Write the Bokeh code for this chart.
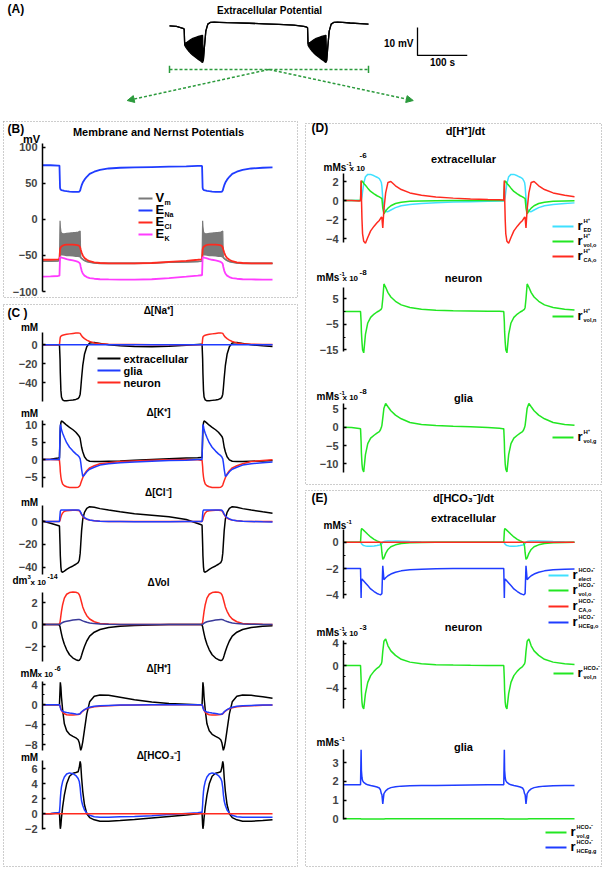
from bokeh.plotting import figure
from bokeh.models import Range1d, FixedTicker, Label, Arrow, NormalHead, LinearAxis
from bokeh.embed import file_html
from bokeh.resources import INLINE

# ---------------- data (time in s) ----------------
T = [0, 14, 27,
     29.5, 30.5, 31, 32, 33, 35, 38, 42, 47, 53, 58, 62, 64, 65.5, 66.5, 68, 70, 73, 77, 82, 90, 100,
     115, 135, 160, 190, 220, 250, 270, 276,
     277.5, 278.5, 279, 280, 281, 283, 286, 290, 295, 301, 306, 310, 312, 313.5, 314.5, 316, 318, 321, 325, 330, 338, 348,
     363, 383, 400]

# (A) extracellular potential, mV relative (envelope of the oscillation)
a_hi = [-0.1, -0.3, -1.0,
        -1.3, -6.5, -6.4, -6.3, -6.2, -6.0, -5.6, -5.1, -4.6, -4.2, -3.9, -3.7, -3.6, -3.5, -3.5, -12.5, -8, -2, 0.5, 1.1, 1.2, 1.15,
        1.05, 0.95, 0.8, 0.6, 0.4, 0.1, -0.3, -0.6,
        -0.8, -6.5, -6.4, -6.3, -6.2, -6.0, -5.6, -5.1, -4.6, -4.2, -3.9, -3.7, -3.6, -3.5, -3.5, -12.5, -8, -2, 0.5, 1.1, 1.2, 1.15,
        0.9, 0.7, 0.5]
a_lo = [-0.1, -0.3, -1.0,
        -1.3, -7, -7.2, -7.5, -7.8, -8.3, -9, -9.8, -10.6, -11.4, -12.1, -12.6, -12.9, -13.1, -13.2, -12.5, -8, -2, 0.5, 1.1, 1.2, 1.15,
        1.05, 0.95, 0.8, 0.6, 0.4, 0.1, -0.3, -0.6,
        -0.8, -7, -7.2, -7.5, -7.8, -8.3, -9, -9.8, -10.6, -11.4, -12.1, -12.6, -12.9, -13.1, -13.2, -12.5, -8, -2, 0.5, 1.1, 1.2, 1.15,
        0.9, 0.7, 0.5]

# (B) membrane and Nernst potentials, mV
vm_lo = [-58, -58, -57.5,
         -57, -48, -48, -49, -49, -49, -49.5, -50, -50, -50.5, -51, -51, -51.5, -52, -53, -54, -55.5, -57, -58.5, -59.5, -60.5, -61,
         -61, -61, -61, -60.5, -59.5, -59, -58.5, -58,
         -57.5, -48, -48, -49, -49, -49, -49.5, -50, -50, -50.5, -51, -51, -51.5, -52, -53, -54, -55.5, -57, -58.5, -59.5, -60.5, -61,
         -61, -61, -61]
vm_hi = [-58, -58, -57.5,
         -57, -2, -10, -17, -19, -20, -20, -19.5, -19, -18.5, -18, -17.5, -17, -16, -53, -54, -55.5, -57, -58.5, -59.5, -60.5, -61,
         -61, -61, -61, -60.5, -59.5, -59, -58.5, -58,
         -57.5, -2, -10, -17, -19, -20, -20, -19.5, -19, -18.5, -18, -17.5, -17, -16, -53, -54, -55.5, -57, -58.5, -59.5, -60.5, -61,
         -61, -61, -61]
e_na = [75, 75, 74.5,
        74.5, 44, 42, 41, 40.5, 40, 39.5, 39, 38.5, 38, 38, 38, 38.5, 40, 43, 47, 51, 55, 59, 63, 66, 68.5,
        70.5, 71.5, 72, 72.5, 73, 73.5, 74, 74,
        74, 44, 42, 41, 40.5, 40, 39.5, 39, 38.5, 38, 38, 38, 38.5, 40, 43, 47, 51, 55, 59, 63, 66, 68.5,
        70.5, 71.5, 72]
e_cl = [-56, -56, -55.5,
        -55, -42, -40, -38.5, -37.5, -36.5, -35.5, -35, -35, -35, -35.5, -36, -37, -39, -42, -46, -50, -53.5, -56, -58, -59.5, -60.5,
        -61, -61, -61, -60.5, -59, -57.5, -56, -55.5,
        -55, -42, -40, -38.5, -37.5, -36.5, -35.5, -35, -35, -35, -35.5, -36, -37, -39, -42, -46, -50, -53.5, -56, -58, -59.5, -60.5,
        -61, -61, -61]
e_k = [-79.5, -79, -78.5,
       -78, -53, -52.5, -52.5, -53, -53.5, -54, -55, -56, -57, -58, -59, -60, -62, -66, -71, -75, -78, -80, -81.5, -82.3, -83,
       -83.3, -83.5, -83.5, -83, -81.5, -79.5, -78, -77.5,
       -77.3, -53, -52.5, -52.5, -53, -53.5, -54, -55, -56, -57, -58, -59, -60, -62, -66, -71, -75, -78, -80, -81.5, -82.3, -83,
       -83.3, -83.5, -83.5]

# (C) concentration / volume changes
na_ext = [0, 0, 0,
          0, -15, -30, -48, -55, -58, -59, -59, -58.5, -58, -57.5, -56.5, -55, -52, -46, -35, -22, -10, -2, 2, 2.5, 1.5,
          0, -1, -1.8, -2, -1.5, -0.5, 0.3, 0.5,
          0.5, -15, -30, -48, -55, -58, -59, -59, -58.5, -58, -57.5, -56.5, -55, -52, -46, -35, -22, -10, -2, 2, 2.5, 1.5,
          0, -1, -1.8]
na_gli = [0, 0, 0,
          0, 0, 0, 0, 0, 0, 0, 0, 0, 0, 0, 0, 0, 0, 0, 0, 0, 0, 0, 0, 0, 0,
          0, 0, 0, 0, 0, 0, 0, 0,
          0, 0, 0, 0, 0, 0, 0, 0, 0, 0, 0, 0, 0, 0, 0, 0, 0, 0, 0, 0, 0, 0,
          0, 0, 0]
na_neu = [0, 0, 0,
          0, 6, 8, 9, 9.5, 10, 10.5, 11, 11.5, 12, 12.3, 12.5, 12.3, 12, 11, 9.5, 8, 6.5, 5, 3.5, 2, 1.2,
          0.6, 0.3, 0.2, 0.1, 0, 0, 0, 0,
          0, 6, 8, 9, 9.5, 10, 10.5, 11, 11.5, 12, 12.3, 12.5, 12.3, 12, 11, 9.5, 8, 6.5, 5, 3.5, 2, 1.2,
          0.6, 0.4, 0.3]
k_ext = [0, 0.1, 0.4,
         0.5, 6, 9, 10.5, 11, 10.8, 10.4, 9.8, 9.2, 8.5, 7.8, 7, 6.6, 6, 5, 3.5, 2.2, 0.8, -0.1, -0.5, -0.6, -0.6,
         -0.5, -0.4, -0.2, 0, 0.2, 0.4, 0.5, 0.6,
         0.6, 6, 9, 10.5, 11, 10.8, 10.4, 9.8, 9.2, 8.5, 7.8, 7, 6.6, 6, 5, 3.5, 2.2, 0.8, -0.1, -0.5, -0.6, -0.6,
         -0.5, -0.4, -0.3]
k_gli = [0, 0, 0,
         0, 8, 10, 9.5, 8.5, 7.5, 6.3, 4.8, 3.5, 2.4, 1.6, 1.1, 0.7, 0.2, -0.8, -2.8, -4.8, -4.4, -3.5, -2.8, -2.2, -1.6,
         -1.2, -0.9, -0.7, -0.5, -0.3, -0.2, 0, 0,
         0, 8, 10, 9.5, 8.5, 7.5, 6.3, 4.8, 3.5, 2.4, 1.6, 1.1, 0.7, 0.2, -0.8, -2.8, -4.8, -4.4, -3.5, -2.8, -2.2, -1.6,
         -1.2, -0.9, -0.7]
k_neu = [0, 0, -0.1,
         -0.2, -2, -3.5, -5, -6, -7, -7.5, -7.8, -8, -8, -8, -7.9, -7.7, -7.3, -6.8, -6.1, -5.2, -4.1, -3.2, -2.4, -1.8, -1.2,
         -0.9, -0.6, -0.4, -0.2, -0.1, 0, -0.1, -0.2,
         -0.2, -2, -3.5, -5, -6, -7, -7.5, -7.8, -8, -8, -8, -7.9, -7.7, -7.3, -6.8, -6.1, -5.2, -4.1, -3.2, -2.4, -1.8, -1.2,
         -0.6, -0.3, -0.1]
cl_ext = [0.5, -1.5, -3.5,
          -4, -20, -30, -40, -44, -44.5, -43.5, -42, -40.5, -39, -37.5, -36, -34, -28, -20, -8, 2, 8, 11.5, 13, 12.5, 11.3,
          10, 8.5, 6.8, 5.5, 4.2, 1.8, -1.8, -2.8,
          -3.2, -20, -30, -40, -44, -44.5, -43.5, -42, -40.5, -39, -37.5, -36, -34, -28, -20, -8, 2, 8, 11.5, 13, 12.5, 11.3,
          10, 8.5, 7.3]
cl_gli = [0, 0, 0,
          0, 6, 9, 10, 10, 10, 10, 10, 10, 10, 10, 10, 9.8, 9, 8, 6.5, 5, 3.5, 2.2, 1.3, 0.6, 0.2,
          0, -0.1, -0.2, -0.2, -0.2, -0.1, 0, 0,
          0, 6, 9, 10, 10, 10, 10, 10, 10, 10, 10, 10, 9.8, 9, 8, 6.5, 5, 3.5, 2.2, 1.3, 0.6, 0.2,
          0, -0.3, -0.5]
cl_neu = [0, 0, 0,
          0, 1, 2, 4, 5.5, 7.5, 9, 9.5, 9.7, 9.8, 9.8, 9.7, 9.4, 8.5, 7.3, 6, 4.5, 3, 2, 1.2, 0.6, 0.2,
          0, 0, 0, 0, 0, 0, 0, 0,
          0, 1, 2, 4, 5.5, 7.5, 9, 9.5, 9.7, 9.8, 9.8, 9.7, 9.4, 8.5, 7.3, 6, 4.5, 3, 2, 1.2, 0.6, 0.2,
          0, 0, 0]
vol_ext = [0, 0, 0,
           -0.05, -0.2, -0.35, -0.6, -0.85, -1.3, -1.8, -2.3, -2.75, -3.05, -3.2, -3.27, -3.25, -3.15, -3.05, -2.8, -2.45, -2, -1.5, -1.05, -0.7, -0.45,
           -0.28, -0.17, -0.1, -0.05, 0, 0, 0, 0,
           -0.05, -0.2, -0.35, -0.6, -0.85, -1.3, -1.8, -2.3, -2.75, -3.05, -3.2, -3.27, -3.25, -3.15, -3.05, -2.8, -2.45, -2, -1.5, -1.05, -0.7, -0.45,
           -0.28, -0.17, -0.12]
vol_gli = [0, 0, 0,
           0, 0.02, 0.04, 0.08, 0.12, 0.18, 0.25, 0.3, 0.35, 0.4, 0.43, 0.45, 0.45, 0.44, 0.42, 0.38, 0.33, 0.27, 0.2, 0.14, 0.08, 0.04,
           0.02, 0, 0, 0, 0, 0, 0, 0,
           0, 0.02, 0.04, 0.08, 0.12, 0.18, 0.25, 0.3, 0.35, 0.4, 0.43, 0.45, 0.45, 0.44, 0.42, 0.38, 0.33, 0.27, 0.2, 0.14, 0.08, 0.04,
           0.02, 0, 0]
vol_neu = [0, 0, 0,
           0.05, 0.2, 0.4, 0.8, 1.2, 1.8, 2.4, 2.75, 2.9, 2.95, 2.93, 2.85, 2.7, 2.5, 2.3, 2, 1.6, 1.2, 0.8, 0.5, 0.25, 0.1,
           0.05, 0, 0, 0, 0, 0, 0, 0,
           0.05, 0.2, 0.4, 0.8, 1.2, 1.8, 2.4, 2.75, 2.9, 2.95, 2.93, 2.85, 2.7, 2.5, 2.3, 2, 1.6, 1.2, 0.8, 0.5, 0.25, 0.1,
           0.05, 0.02, 0]
h_ext = [0, 0, 0,
         0, 3, 4.5, 3.5, 1.5, -1, -3.8, -5.2, -5.9, -6.3, -6.6, -7, -7.6, -8.5, -9.1, -8.6, -7.4, -5, -1.8, 0.6, 1.7, 1.95,
         1.9, 1.5, 1.0, 0.55, 0.25, 0.1, 0, 0,
         0, 3, 4.5, 3.5, 1.5, -1, -3.8, -5.2, -5.9, -6.3, -6.6, -7, -7.6, -8.5, -9.1, -8.6, -7.4, -5, -1.8, 0.6, 1.7, 1.95,
         1.9, 1.6, 1.3]
h_neu = [0, 0, 0,
         0, -0.2, -0.4, -0.8, -1.1, -1.5, -1.8, -2, -2.05, -2.05, -2, -1.95, -1.9, -1.8, -1.7, -1.5, -1.3, -1, -0.8, -0.6, -0.4, -0.3,
         -0.2, -0.1, -0.05, 0, 0, 0, 0, 0,
         0, -0.2, -0.4, -0.8, -1.1, -1.5, -1.8, -2, -2.05, -2.05, -2, -1.95, -1.9, -1.8, -1.7, -1.5, -1.3, -1, -0.8, -0.6, -0.4, -0.3,
         -0.2, -0.1, -0.05]
h_gli = [0, 0, 0,
         0, -0.3, -0.6, -0.9, -1.1, -1.3, -1.45, -1.55, -1.65, -1.75, -1.85, -1.9, -1.85, -1.75, -1.6, -1.4, -1.2, -0.95, -0.7, -0.5, -0.3, -0.2,
         -0.12, -0.06, -0.03, 0, 0, 0, 0, 0,
         0, -0.3, -0.6, -0.9, -1.1, -1.3, -1.45, -1.55, -1.65, -1.75, -1.85, -1.9, -1.85, -1.75, -1.6, -1.4, -1.2, -0.95, -0.7, -0.5, -0.3, -0.2,
         -0.12, -0.06, -0.03]
hco_ext = [0, 0, 0.1,
           0.1, -1.5, -2, -1.5, -0.5, 0.9, 2.5, 4, 5, 5.4, 5.5, 5.6, 6.2, 7, 6.6, 4.8, 3, 1.2, 0, -0.5, -0.8, -1,
           -1, -0.9, -0.75, -0.55, -0.35, -0.15, 0, 0.1,
           0.1, -1.5, -2, -1.5, -0.5, 0.9, 2.5, 4, 5, 5.4, 5.5, 5.6, 6.2, 7, 6.6, 4.8, 3, 1.2, 0, -0.5, -0.8, -1,
           -1, -0.9, -0.8]
hco_gli = [0, 0.05, 0.15,
           0.2, 1.2, 2, 3, 3.6, 4.3, 4.9, 5.3, 5.45, 5.35, 5.1, 4.7, 4.3, 3.5, 2.6, 1.7, 1.1, 0.5, 0.1, -0.2, -0.4, -0.45,
           -0.45, -0.4, -0.35, -0.25, -0.1, 0.05, 0.15, 0.2,
           0.2, 1.2, 2, 3, 3.6, 4.3, 4.9, 5.3, 5.45, 5.35, 5.1, 4.7, 4.3, 3.5, 2.6, 1.7, 1.1, 0.5, 0.1, -0.2, -0.4, -0.45,
           -0.45, -0.45, -0.45]
hco_neu = [0, 0, 0,
           0, 0, 0, 0, 0, 0, 0, 0, 0, 0, 0, 0, 0, 0, 0, 0, 0, 0, 0, 0, 0, 0,
           0, 0, 0, 0, 0, 0, 0, 0,
           0, 0, 0, 0, 0, 0, 0, 0, 0, 0, 0, 0, 0, 0, 0, 0, 0, 0, 0, 0, 0, 0,
           0, 0, 0]

# (D) d[H+]/dt
dh_ed = [0, 0, 0,
         0, 0, 0.1, 0.4, 0.9, 1.8, 2.5, 2.75, 2.75, 2.6, 2.45, 2.3, 2.1, 1.9, 1.5, 0.2, -0.8, -1.15, -1.18, -1.0, -0.75, -0.55,
         -0.42, -0.32, -0.24, -0.17, -0.12, -0.08, -0.06, -0.05,
         -0.05, 0, 0.1, 0.4, 0.9, 1.8, 2.5, 2.75, 2.75, 2.6, 2.45, 2.3, 2.1, 1.9, 1.5, 0.2, -0.8, -1.15, -1.18, -1.0, -0.75, -0.55,
         -0.42, -0.32, -0.25]
dh_volo = [0, 0, 0,
           0, 1.5, 2, 2.05, 2, 1.8, 1.6, 1.3, 0.95, 0.7, 0.5, 0.38, 0.3, 0.25, 0.2, -0.8, -1.4, -1.1, -0.8, -0.55, -0.32, -0.18,
           -0.08, -0.04, -0.02, 0, 0, 0, 0, 0,
           0, 1.5, 2, 2.05, 2, 1.8, 1.6, 1.3, 0.95, 0.7, 0.5, 0.38, 0.3, 0.25, 0.2, -0.8, -1.4, -1.1, -0.8, -0.55, -0.32, -0.18,
           -0.08, -0.04, -0.02]
dh_cao = [0, 0, -0.05,
          0, 2.1, 0.5, -2, -3.5, -4.3, -4.5, -3.9, -3.2, -2.7, -2.35, -2.1, -1.9, -1.75, -1.8, -2.9, -0.9, 0.8, 1.9, 2.0, 1.55, 1.15,
          0.8, 0.55, 0.38, 0.25, 0.17, 0.1, 0.07, 0.05,
          0.05, 2.1, 0.5, -2, -3.5, -4.3, -4.5, -3.9, -3.2, -2.7, -2.35, -2.1, -1.9, -1.75, -1.8, -2.9, -0.9, 0.8, 1.9, 2.0, 1.55, 1.15,
          0.8, 0.55, 0.4]
dh_voln = [0, 0, 0,
           0, -4, -8, -12, -15, -16.2, -9, -4.5, -2.3, -1, -0.2, 0.3, 0.6, 1, 1.6, 5, 10.8, 9.5, 7.4, 5.7, 4, 2.6,
           1.6, 0.9, 0.5, 0.3, 0.2, 0.1, 0.05, 0,
           0, -4, -8, -12, -15, -16.2, -9, -4.5, -2.3, -1, -0.2, 0.3, 0.6, 1, 1.6, 5, 10.8, 9.5, 7.4, 5.7, 4, 2.6,
           1.6, 0.9, 0.6]
dh_volg = [0, -0.1, -0.35,
           -0.45, -4, -7, -10, -11.5, -12.2, -7.5, -4.5, -3, -2.2, -1.6, -1.2, -0.7, -0.1, 0.5, 2.5, 5.2, 6.5, 5.6, 4.5, 3.3, 2.3,
           1.3, 0.75, 0.45, 0.25, 0.1, -0.1, -0.3, -0.4,
           -0.45, -4, -7, -10, -11.5, -12.2, -7.5, -4.5, -3, -2.2, -1.6, -1.2, -0.7, -0.1, 0.5, 2.5, 5.2, 6.5, 5.6, 4.5, 3.3, 2.3,
           1.3, 0.75, 0.5]

# (E) d[HCO3-]/dt
dc_elect = [0, 0, 0,
            0, -0.05, -0.1, -0.15, -0.2, -0.25, -0.28, -0.3, -0.3, -0.28, -0.25, -0.22, -0.2, -0.15, -0.1, 0, 0.05, 0.08, 0.1, 0.1, 0.1, 0.08,
            0.05, 0.02, 0, 0, 0, 0, 0, 0,
            0, -0.05, -0.1, -0.15, -0.2, -0.25, -0.28, -0.3, -0.3, -0.28, -0.25, -0.22, -0.2, -0.15, -0.1, 0, 0.05, 0.08, 0.1, 0.1, 0.1, 0.08,
            0.05, 0.02, 0]
dc_volo = [0, 0, 0,
           0, 0.8, 1.0, 1.02, 0.98, 0.9, 0.78, 0.6, 0.4, 0.22, 0.1, 0.02, -0.05, -0.3, -0.8, -1.3, -1.2, -0.85, -0.55, -0.35, -0.2, -0.1,
           -0.05, -0.02, 0, 0, 0, 0, 0, 0,
           0, 0.8, 1.0, 1.02, 0.98, 0.9, 0.78, 0.6, 0.4, 0.22, 0.1, 0.02, -0.05, -0.3, -0.8, -1.3, -1.2, -0.85, -0.55, -0.35, -0.2, -0.1,
           -0.05, -0.02, 0]
dc_cao = [0, 0, 0,
          0, 0, 0, 0, 0, 0, 0, 0, 0, 0, 0, 0, 0, 0, 0, 0, 0, 0, 0, 0, 0, 0,
          0, 0, 0, 0, 0, 0, 0, 0,
          0, 0, 0, 0, 0, 0, 0, 0, 0, 0, 0, 0, 0, 0, 0, 0, 0, 0, 0, 0, 0, 0,
          0, 0, 0]
dc_hceo = [-2, -2, -2,
           -2, -4.25, -3.0, -2.8, -2.85, -2.95, -3.1, -3.3, -3.55, -3.75, -3.9, -3.97, -4.0, -3.95, -3.9, -1.8, -2.85, -2.7, -2.55, -2.42, -2.28, -2.18,
           -2.1, -2.05, -2.02, -2, -2, -2, -2, -2,
           -2, -4.25, -3.0, -2.8, -2.85, -2.95, -3.1, -3.3, -3.55, -3.75, -3.9, -3.97, -4.0, -3.95, -3.9, -1.8, -2.85, -2.7, -2.55, -2.42, -2.28, -2.18,
           -2.1, -2.05, -2.03]
dc_voln = [0, 0, 0,
           0, -2.5, -4.5, -6.5, -7.3, -7.7, -5, -3, -1.8, -1.0, -0.5, -0.2, 0.1, 0.3, 0.7, 2.5, 4.3, 4.7, 3.5, 2.6, 1.8, 1.1,
           0.6, 0.3, 0.15, 0.08, 0.04, 0.02, 0, 0,
           0, -2.5, -4.5, -6.5, -7.3, -7.7, -5, -3, -1.8, -1.0, -0.5, -0.2, 0.1, 0.3, 0.7, 2.5, 4.3, 4.7, 3.5, 2.6, 1.8, 1.1,
           0.6, 0.3, 0.18]
dc_volg = [0, 0, 0,
           0, -0.01, -0.01, -0.01, -0.01, -0.01, -0.01, -0.01, -0.01, -0.01, -0.01, -0.01, -0.01, -0.01, -0.01, -0.01, -0.01, 0, 0, 0, 0, 0,
           0, 0, 0, 0, 0, 0, 0, 0,
           0, -0.01, -0.01, -0.01, -0.01, -0.01, -0.01, -0.01, -0.01, -0.01, -0.01, -0.01, -0.01, -0.01, -0.01, -0.01, -0.01, 0, 0, 0, 0, 0,
           0, 0, 0]
dc_hceg = [1.82, 1.82, 1.82,
           1.82, 3.7, 2.6, 2.2, 2.05, 1.95, 1.88, 1.82, 1.78, 1.74, 1.7, 1.65, 1.55, 1.35, 1.3, 0.8, 1.35, 1.5, 1.6, 1.67, 1.72, 1.75,
           1.77, 1.78, 1.79, 1.8, 1.81, 1.82, 1.82, 1.82,
           1.82, 3.7, 2.6, 2.2, 2.05, 1.95, 1.88, 1.82, 1.78, 1.74, 1.7, 1.65, 1.55, 1.35, 1.3, 0.8, 1.35, 1.5, 1.6, 1.67, 1.72, 1.75,
           1.77, 1.78, 1.79]

SCALE_S = 100   # scale bar, s
SCALE_MV = 10   # scale bar, mV

_all = dict(a_hi=a_hi, a_lo=a_lo, vm_lo=vm_lo, vm_hi=vm_hi, e_na=e_na, e_cl=e_cl, e_k=e_k,
            na_ext=na_ext, na_gli=na_gli, na_neu=na_neu, k_ext=k_ext, k_gli=k_gli, k_neu=k_neu,
            cl_ext=cl_ext, cl_gli=cl_gli, cl_neu=cl_neu, vol_ext=vol_ext, vol_gli=vol_gli, vol_neu=vol_neu,
            h_ext=h_ext, h_neu=h_neu, h_gli=h_gli, hco_ext=hco_ext, hco_gli=hco_gli, hco_neu=hco_neu,
            dh_ed=dh_ed, dh_volo=dh_volo, dh_cao=dh_cao, dh_voln=dh_voln, dh_volg=dh_volg,
            dc_elect=dc_elect, dc_volo=dc_volo, dc_cao=dc_cao, dc_hceo=dc_hceo, dc_voln=dc_voln,
            dc_volg=dc_volg, dc_hceg=dc_hceg)
for _k, _v in _all.items():
    if len(_v) != len(T):
        raise ValueError(f"{_k} has {len(_v)} values, expected {len(T)}")

# ---------------- style ----------------
FONT = "Liberation Sans"
BLACK = "#000000"
BLUE = "#1f3cff"
RED = "#ff2a1f"
MAG = "#ff3cff"
GREY = "#7a7a7a"
CYAN = "#3fe0ff"
GREEN = "#22e622"
NAVY = "#3a3a9a"
DGREEN = "#2b9a3c"
BORDER = "#9a9a9a"

W, H = 603, 870

# One canvas; the default ranges are page pixels (y downwards), every
# sub-plot gets its own time range and value range.
p = figure(width=W, height=H, x_range=Range1d(0, W), y_range=Range1d(H, 0),
           x_axis_location=None, y_axis_location=None, title=None,
           min_border=0, min_border_left=0, min_border_right=0, min_border_top=0, min_border_bottom=0,
           toolbar_location=None, output_backend="svg", outline_line_color=None,
           background_fill_color="white", border_fill_color="white")
p.grid.visible = False

xr = {}
yr = {}


def trange(name, x0pix, px_per_s):
    xr[name] = Range1d(-x0pix / px_per_s, (W - x0pix) / px_per_s)


def vrange(name, y0pix, px_per_unit):
    yr[name] = Range1d((y0pix - H) / px_per_unit, y0pix / px_per_unit)


trange("ta", 169, 199 / 400)
trange("tl", 42, 230 / 400)
trange("tr", 343, 231 / 400)
vrange("va", 25, 2.8)
vrange("b", 218.85, 0.7215)
vrange("c1", 344.3, 0.95)
vrange("c2", 459, 3.5)
vrange("c3", 521, 1.14)
vrange("c4", 624, 11)
vrange("c5", 704.3, 5)
vrange("c6", 813.3, 7.5)
vrange("d1", 200, 9.5)
vrange("d2", 311, 2.55)
vrange("d3", 426.7, 3.66)
vrange("e1", 541.7, 13.15)
vrange("e2", 665, 5.625)
vrange("e3", 818.3, 18.67)
p.extra_x_ranges = xr
p.extra_y_ranges = yr


def yaxis(name, xpix, bounds, ticks, minor=()):
    ax = LinearAxis(y_range_name=name, fixed_location=xpix, bounds=bounds,
                    ticker=FixedTicker(ticks=list(ticks), minor_ticks=list(minor)))
    ax.axis_line_width = 1.5
    ax.axis_line_color = "black"
    ax.major_tick_in = 3
    ax.major_tick_out = 0
    ax.major_tick_line_width = 1.5
    ax.minor_tick_in = 2
    ax.minor_tick_out = 0
    ax.minor_tick_line_width = 1.2
    ax.major_label_text_font = FONT
    ax.major_label_text_font_style = "bold"
    ax.major_label_text_font_size = "11px"
    ax.major_label_standoff = 5
    p.add_layout(ax, "left")


def ln(xn, yn, y, color, w=1.5):
    p.line(T, y, x_range_name=xn, y_range_name=yn, line_color=color, line_width=w)


def lab(px, py, s, size=11, align="left"):
    p.add_layout(Label(x=px, y=py, text=s, text_font=FONT, text_font_size=f"{size}px",
                       text_font_style="bold", text_align=align, text_baseline="middle",
                       text_color="black"))


def seg(px0, px1, py, color, w=2.0):
    p.segment(x0=[px0], y0=[py], x1=[px1], y1=[py], line_color=color, line_width=w)


def rleg(x0, x1, yy, cc, sup, sub, supsize=6):
    seg(x0, x1, yy, cc, 2)
    lab(x1 + 4, yy - 1, "r", 13)
    lab(x1 + 10, yy - 5.5, sup, supsize)
    lab(x1 + 10, yy + 3.5, sub, 5.5)


# ---------------- panel frames (dotted) ----------------
p.quad(left=[3, 3, 305, 305], right=[297, 297, 601, 601], top=[121, 304, 123, 490],
       bottom=[297, 866, 484, 866], fill_color=None, line_color=BORDER, line_width=1, line_dash="1 2")

# ---------------- (A) ----------------
p.varea(x=T, y1=a_lo, y2=a_hi, x_range_name="ta", y_range_name="va", fill_color="black")
ln("ta", "va", a_hi, BLACK, 1.3)
ln("ta", "va", a_lo, BLACK, 1.3)
sb_t, sb_v = 498.5, -10.7
p.line([sb_t, sb_t, sb_t + SCALE_S], [sb_v + SCALE_MV, sb_v, sb_v], x_range_name="ta", y_range_name="va",
       line_color="black", line_width=1.3)
br_y = -15.7
p.line([T[0], T[-1]], [br_y, br_y], x_range_name="ta", y_range_name="va",
       line_color=DGREEN, line_width=1.5, line_dash="3 2")
p.segment(x0=[T[0], T[-1]], y0=[br_y - 1.3, br_y - 1.3], x1=[T[0], T[-1]], y1=[br_y + 1.3, br_y + 1.3],
          x_range_name="ta", y_range_name="va", line_color=DGREEN, line_width=1.5)
mid_t = (T[0] + T[-1]) / 2
for xe in (-85, 490):
    p.add_layout(Arrow(end=NormalHead(size=7, fill_color=DGREEN, line_color=DGREEN),
                       x_start=mid_t, y_start=br_y, x_end=xe, y_end=-26.8,
                       x_range_name="ta", y_range_name="va",
                       line_color=DGREEN, line_width=1.5, line_dash="3 2"))
lab(7, 8, "(A)", 12)
lab(269, 10, "Extracellular Potential", 10, "center")
lab(413, 43, "10 mV", 10, "right")
lab(442, 62, "100 s", 10, "center")

# ---------------- (B) ----------------
yaxis("b", 42, (-100, 105), [100, 50, 0, -50, -100])
p.varea(x=T, y1=vm_lo, y2=vm_hi, x_range_name="tl", y_range_name="b", fill_color=GREY)
ln("tl", "b", vm_hi, GREY, 1.2)
ln("tl", "b", vm_lo, GREY, 1.6)
ln("tl", "b", e_na, BLUE, 1.8)
ln("tl", "b", e_cl, RED, 1.8)
ln("tl", "b", e_k, MAG, 1.8)
lab(7, 128, "(B)", 12)
lab(158, 131, "Membrane and Nernst Potentials", 11, "center")
lab(31, 138, "mV", 11, "center")
for yy, cc, mn, sb in zip([198, 210, 222, 234], [GREY, BLUE, RED, MAG], ["V", "E", "E", "E"], ["m", "Na", "Cl", "K"]):
    seg(138, 152, yy, cc, 2)
    lab(155, yy - 1, mn, 13)
    lab(164, yy + 4, sb, 7)

# ---------------- (C) ----------------
yaxis("c1", 42, (-59.7, 12.95), [0, -20, -40])
yaxis("c2", 42, (-8.0, 11.14), [10, 5, 0, -5])
yaxis("c3", 42, (-46.5, 14.0), [0, -20, -40])
yaxis("c4", 42, (-3.36, 2.91), [2, 0, -2])
yaxis("c5", 42, (-9.14, 4.66), [4, 0, -4, -8], [2, -2, -6])
yaxis("c6", 42, (-2.09, 7.11), [6, 4, 2, 0, -2])

ln("tl", "c1", na_ext, BLACK); ln("tl", "c1", na_neu, RED); ln("tl", "c1", na_gli, BLUE)
ln("tl", "c2", k_ext, BLACK); ln("tl", "c2", k_neu, RED); ln("tl", "c2", k_gli, BLUE)
ln("tl", "c3", cl_ext, BLACK); ln("tl", "c3", cl_neu, RED); ln("tl", "c3", cl_gli, BLUE)
ln("tl", "c4", vol_ext, BLACK); ln("tl", "c4", vol_neu, RED); ln("tl", "c4", vol_gli, NAVY)
ln("tl", "c5", h_ext, BLACK); ln("tl", "c5", h_neu, RED); ln("tl", "c5", h_gli, BLUE)
ln("tl", "c6", hco_ext, BLACK); ln("tl", "c6", hco_gli, BLUE); ln("tl", "c6", hco_neu, RED)

lab(7, 312, "(C )", 12)
lab(158, 310, "Δ[Na⁺]", 10, "center")
lab(158, 412, "Δ[K⁺]", 10, "center")
lab(158, 492, "Δ[Cl⁻]", 10, "center")
lab(158, 582, "ΔVol", 10, "center")
lab(158, 668, "Δ[H⁺]", 10, "center")
lab(158, 755, "Δ[HCO₃⁻]", 10, "center")
lab(29, 327, "mM", 10, "center")
lab(29, 413, "mM", 10, "center")
lab(29, 502, "mM", 10, "center")
lab(29, 757, "mM", 10, "center")
lab(12, 580, "dm", 10)
lab(27, 576, "3", 6)
lab(30, 582, "x 10", 8)
lab(47, 576, "-14", 7)
lab(20, 673, "mM", 10)
lab(37, 674, "x 10", 8)
lab(54, 668, "-6", 7)
for yy, cc, tt in zip([358, 370, 382], [BLACK, BLUE, RED], ["extracellular", "glia", "neuron"]):
    seg(97, 120, yy, cc, 1.8)
    lab(123, yy, tt, 11)

# ---------------- (D) ----------------
yaxis("d1", 343, (-4.42, 2.84), [2, 0, -2, -4])
yaxis("d2", 343, (-15.5, 9.6), [5, -5, -15], [0, -10])
yaxis("d3", 343, (-12.38, 6.6), [5, 0, -5, -10])
ln("tr", "d1", dh_ed, CYAN); ln("tr", "d1", dh_volo, GREEN); ln("tr", "d1", dh_cao, RED)
ln("tr", "d2", dh_voln, GREEN)
ln("tr", "d3", dh_volg, GREEN)

lab(311, 127, "(D)", 12)
lab(465, 130, "d[H⁺]/dt", 11, "center")
lab(463, 158, "extracellular", 11, "center")
lab(323, 167, "mMs", 10)
lab(346, 163, "-1", 6)
lab(349, 168, "x 10", 8)
lab(359, 154.5, "-6", 8)
lab(463, 277, "neuron", 11, "center")
lab(316, 277, "mMs", 10)
lab(339, 273, "-1", 6)
lab(342, 278, "x 10", 8)
lab(359, 272, "-8", 8)
lab(463, 397, "glia", 11, "center")
lab(316, 396, "mMs", 10)
lab(339, 392, "-1", 6)
lab(342, 397, "x 10", 8)
lab(359, 391, "-8", 8)
for yy, cc, sb in zip([226, 241, 256], [CYAN, GREEN, RED], ["ED", "vol,o", "CA,o"]):
    rleg(552, 573, yy, cc, "H⁺", sb)
rleg(552, 573, 316, GREEN, "H⁺", "vol,n")
rleg(552, 573, 437, GREEN, "H⁺", "vol,g")

# ---------------- (E) ----------------
yaxis("e1", 343, (-4.3, 0.95), [0, -2, -4], [-1, -3])
yaxis("e2", 343, (-7.6, 4.4), [4, 0, -4], [2, -2, -6])
yaxis("e3", 343, (-0.05, 3.7), [3, 2, 1, 0])
ln("tr", "e1", dc_hceo, BLUE); ln("tr", "e1", dc_elect, CYAN); ln("tr", "e1", dc_volo, GREEN); ln("tr", "e1", dc_cao, RED)
ln("tr", "e2", dc_voln, GREEN)
ln("tr", "e3", dc_volg, GREEN); ln("tr", "e3", dc_hceg, BLUE)

lab(311, 497, "(E)", 12)
lab(463, 497, "d[HCO₃⁻]/dt", 11, "center")
lab(463, 517, "extracellular", 11, "center")
lab(323, 525, "mMs", 10)
lab(346, 521, "-1", 6)
lab(463, 626, "neuron", 11, "center")
lab(316, 632, "mMs", 10)
lab(339, 628, "-1", 6)
lab(342, 633, "x 10", 8)
lab(359, 627, "-3", 8)
lab(463, 746, "glia", 11, "center")
lab(316, 742, "mMs", 10)
lab(339, 738, "-1", 6)
for yy, cc, sb in zip([575, 590, 606, 622], [CYAN, GREEN, RED, BLUE], ["elect", "vol,o", "CA,o", "HCEg,o"]):
    rleg(548, 568, yy, cc, "HCO₃⁻", sb, 5.5)
rleg(553, 573, 673, GREEN, "HCO₃⁻", "vol,n", 5.5)
for yy, cc, sb in zip([832, 847], [GREEN, BLUE], ["vol,g", "HCEg,g"]):
    rleg(545, 566, yy, cc, "HCO₃⁻", sb, 5.5)

open("out.html", "w").write(file_html(p, INLINE, title="Extracellular potential"))
